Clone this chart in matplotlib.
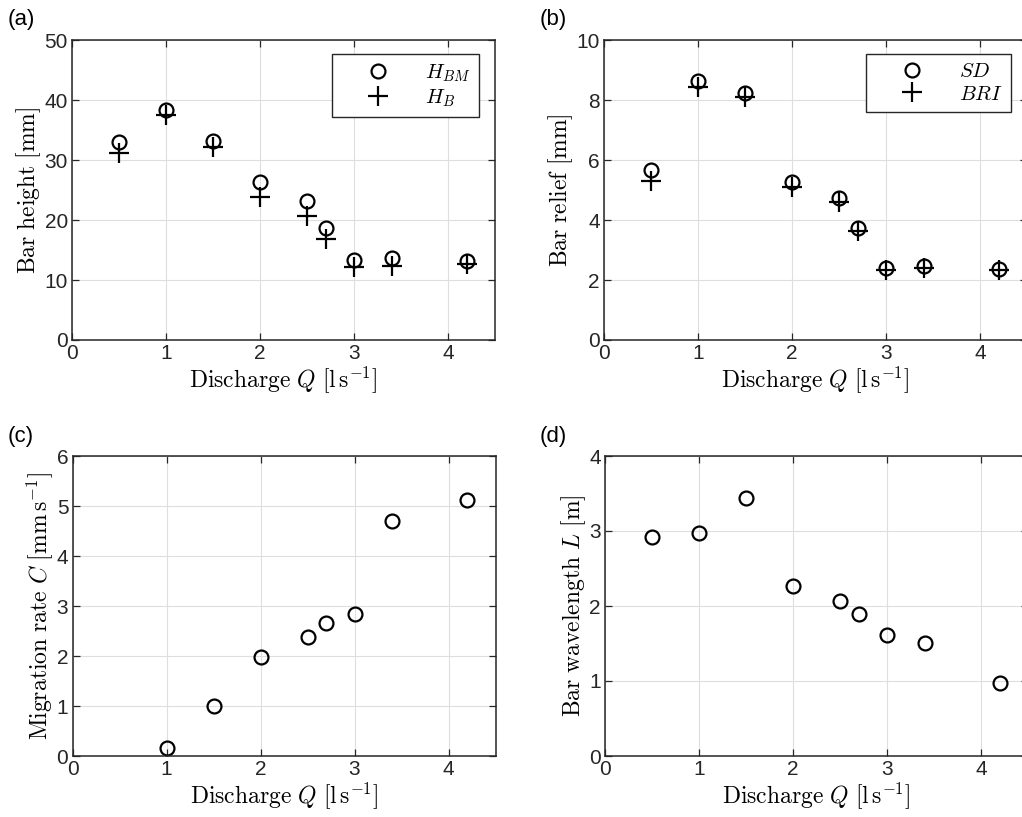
import matplotlib
matplotlib.use("Agg")
import matplotlib.pyplot as plt

plt.rcParams['font.family'] = ['Liberation Sans', 'DejaVu Sans']
plt.rcParams['mathtext.fontset'] = 'cm'

# ---- data ----
Q_all = [0.5, 1.0, 1.5, 2.0, 2.5, 2.7, 3.0, 3.4, 4.2]
H_BM = [33.0, 38.3, 33.1, 26.3, 23.2, 18.7, 13.4, 13.6, 13.1]
H_B = [31.2, 37.5, 32.2, 23.9, 20.7, 16.8, 12.2, 12.3, 12.6]
SD = [5.67, 8.64, 8.22, 5.27, 4.74, 3.72, 2.39, 2.46, 2.37]
BRI = [5.29, 8.45, 8.09, 5.11, 4.61, 3.63, 2.33, 2.39, 2.33]
Q_C = [1.0, 1.5, 2.0, 2.5, 2.7, 3.0, 3.4, 4.2]
C = [0.17, 1.0, 1.98, 2.39, 2.66, 2.85, 4.70, 5.13]
L = [2.92, 2.98, 3.44, 2.27, 2.07, 1.89, 1.61, 1.51, 0.98]

xticks = [0, 1, 2, 3, 4]
xlabel = r'$\mathrm{Discharge}\ Q\ [\mathrm{l\,s}^{-1}]$'

fig = plt.figure(figsize=(10.22, 8.17), dpi=100)

W = 423 / 1022
H = 300 / 817
positions = {
    'a': (72 / 1022, 1 - 340 / 817),
    'b': (604 / 1022, 1 - 340 / 817),
    'c': (72.5 / 1022, 1 - 756 / 817),
    'd': (605 / 1022, 1 - 756 / 817),
}

frame_col = '#262626'
tick_size = 15
label_size = 17


def style(ax, ylim, yticks, ylabel):
    ax.set_xlim(0, 4.5)
    ax.set_ylim(*ylim)
    ax.set_xticks(xticks)
    ax.set_yticks(yticks)
    ax.grid(True, color='#dedede', linewidth=0.8)
    ax.set_axisbelow(True)
    for s in ax.spines.values():
        s.set_color(frame_col)
        s.set_linewidth(1.1)
    ax.tick_params(direction='in', top=True, right=True, length=5,
                   width=0.9, color=frame_col, labelcolor=frame_col,
                   labelsize=tick_size, pad=3)
    ax.set_xlabel(xlabel, fontsize=label_size, labelpad=1)
    ax.set_ylabel(ylabel, fontsize=label_size, labelpad=1)


circ = dict(marker='o', linestyle='none', markersize=10, markerfacecolor='none',
            markeredgecolor='black', markeredgewidth=1.6)
plus = dict(marker='+', linestyle='none', markersize=14, color='black',
            markeredgewidth=1.6)

leg_kw = dict(loc='upper right', bbox_to_anchor=(0.962, 0.953), fontsize=15,
              fancybox=False, edgecolor=frame_col, framealpha=1,
              borderaxespad=0, borderpad=0.4, labelspacing=0.15,
              handlelength=3.6, handletextpad=0.45)

# (a)
ax = fig.add_axes([*positions['a'], W, H])
ax.plot(Q_all, H_BM, label=r'$H_{BM}$', **circ)
ax.plot(Q_all, H_B, label=r'$H_B$', **plus)
style(ax, (0, 50), [0, 10, 20, 30, 40, 50], r'$\mathrm{Bar\ height}\ [\mathrm{mm}]$')
leg = ax.legend(**leg_kw)
leg.get_frame().set_linewidth(1.0)

# (b)
ax = fig.add_axes([*positions['b'], W, H])
ax.plot(Q_all, SD, label=r'$SD$', **circ)
ax.plot(Q_all, BRI, label=r'$BRI$', **plus)
style(ax, (0, 10), [0, 2, 4, 6, 8, 10], r'$\mathrm{Bar\ relief}\ [\mathrm{mm}]$')
leg = ax.legend(**leg_kw)
leg.get_frame().set_linewidth(1.0)

# (c)
ax = fig.add_axes([*positions['c'], W, H])
ax.plot(Q_C, C, **circ)
style(ax, (0, 6), [0, 1, 2, 3, 4, 5, 6],
      r'$\mathrm{Migration\ rate}\ C\ [\mathrm{mm\,s}^{-1}]$')

# (d)
ax = fig.add_axes([*positions['d'], W, H])
ax.plot(Q_all, L, **circ)
style(ax, (0, 4), [0, 1, 2, 3, 4], r'$\mathrm{Bar\ wavelength}\ L\ [\mathrm{m}]$')

for lbl, (x, y) in {'(a)': (8, 20), '(b)': (540, 20),
                    '(c)': (8, 437), '(d)': (540, 437)}.items():
    fig.text(x / 1022, 1 - y / 817, lbl, fontsize=16, va='center', ha='left',
             color='black')

fig.savefig('out.png', dpi=100)
